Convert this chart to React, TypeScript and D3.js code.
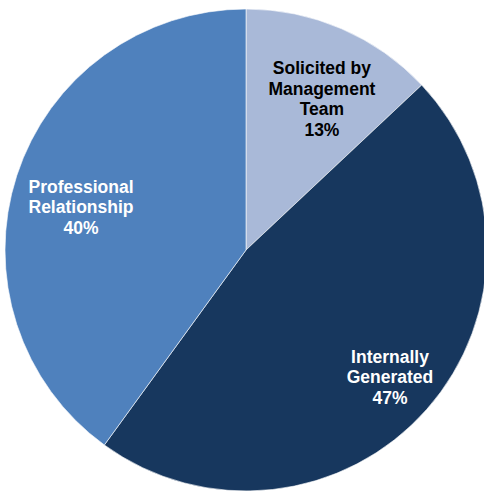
import React from "react";
import * as d3 from "d3";

const categories = ["Solicited by Management Team", "Internally Generated", "Professional Relationship"];
const labelLines = [["Solicited by", "Management", "Team"], ["Internally", "Generated"], ["Professional", "Relationship"]];
const values = [13, 47, 40];
const colors = ["#A9B9D8", "#17375E", "#4F81BD"];
const textColors = ["#000000", "#FFFFFF", "#FFFFFF"];

export default function App() {
  const W = 484, H = 493;
  const cx = 246, cy = 250, r = 241;
  const pie = d3.pie<number>().sort(null).value((d) => d);
  const arcs = pie(values);
  const arc = d3.arc<d3.PieArcDatum<number>>().innerRadius(0).outerRadius(r);
  // label placement (layout, not data)
  const labelR = [169, 192, 170.5];
  const labelAngleShift = [3.3, 0, -3.4];
  const fs = 17.5, lh = 20.5;
  return (
    <svg width={W} height={H} style={{ position: "absolute", left: 0, top: 0 }}>
      <g transform={`translate(${cx},${cy})`}>
        {arcs.map((a, i) => (
          <path key={i} d={arc(a) || ""} fill={colors[i]} stroke="#ffffff" strokeWidth={0.6} />
        ))}
        {arcs.map((a, i) => {
          const mid = (a.startAngle + a.endAngle) / 2 + (labelAngleShift[i] * Math.PI) / 180;
          const x = Math.sin(mid) * labelR[i];
          const y = -Math.cos(mid) * labelR[i];
          const lines = [...labelLines[i], `${values[i]}%`];
          const y0 = y - ((lines.length - 1) * lh) / 2;
          return (
            <text
              key={i}
              x={x}
              textAnchor="middle"
              fill={textColors[i]}
              fontFamily="'Liberation Sans', Arial, sans-serif"
              fontWeight="bold"
              fontSize={fs}
            >
              {lines.map((l, j) => (
                <tspan key={j} x={x} y={y0 + j * lh} dy="0.35em">
                  {l}
                </tspan>
              ))}
            </text>
          );
        })}
      </g>
    </svg>
  );
}
